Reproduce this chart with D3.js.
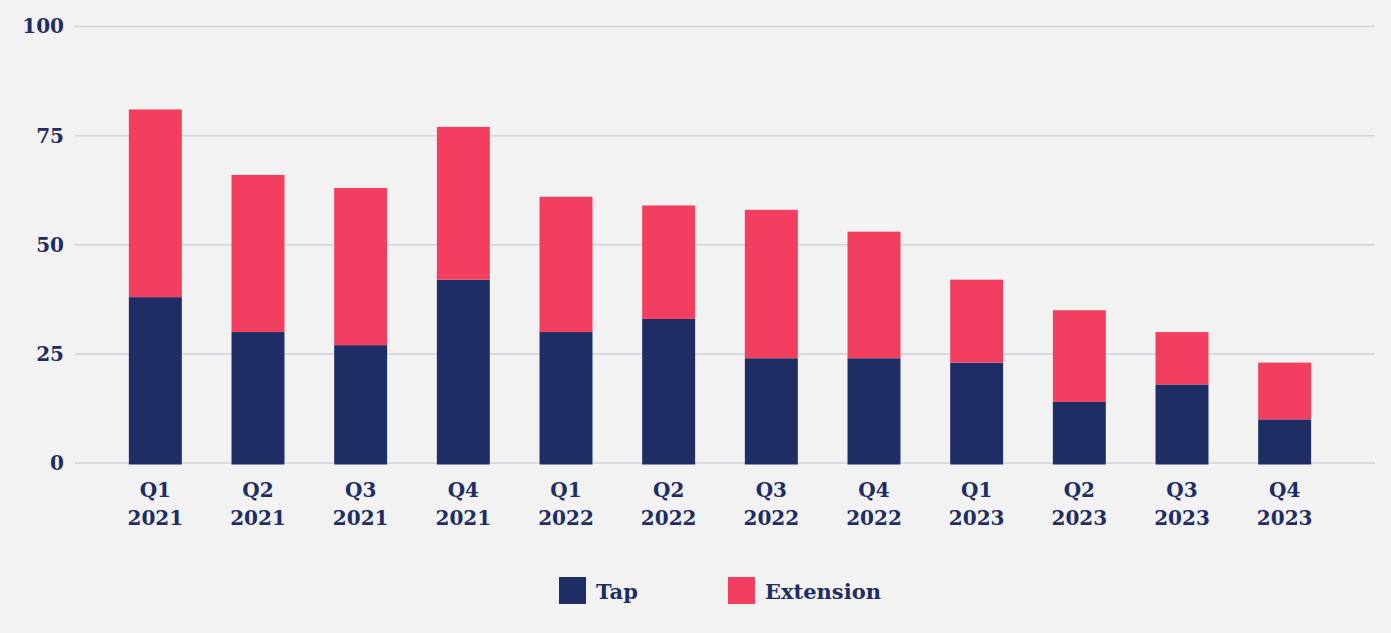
<!DOCTYPE html>
<html>
<head>
<meta charset="utf-8">
<script src="https://cdn.jsdelivr.net/npm/d3@7"></script>
<style>
  body { margin: 0; background: #f2f2f2; }
  text { font-family: "DejaVu Serif", "Liberation Serif", serif; font-weight: bold; fill: #1f2d65; }
</style>
</head>
<body>
<script>
// les données
var quarters = ["Q1", "Q2", "Q3", "Q4", "Q1", "Q2", "Q3", "Q4", "Q1", "Q2", "Q3", "Q4"];
var years = ["2021", "2021", "2021", "2021", "2022", "2022", "2022", "2022", "2023", "2023", "2023", "2023"];
var tap = [38, 30, 27, 42, 30, 33, 24, 24, 23, 14, 18, 10];
var extension = [43, 36, 36, 35, 31, 26, 34, 29, 19, 21, 12, 13];
var yTicks = [0, 25, 50, 75, 100];
var seriesNames = ["Tap", "Extension"];
var colors = ["#1f2d65", "#f23f60"];

var W = 1391, H = 633;

var svg = d3.select("body").append("svg")
            .attr("width", W)
            .attr("height", H)
            .style("background", "#f2f2f2");

var labels = quarters.map((q, i) => q + " " + years[i]);
var rows = labels.map((l, i) => ({label: l, Tap: tap[i], Extension: extension[i]}));

var x = d3.scaleBand()
          .domain(labels)
          .range([104, 1336])
          .paddingInner(0.484)
          .paddingOuter(0.242);

var y = d3.scaleLinear()
          .domain([0, 100])
          .range([463, 26.5]);

// grille
svg.append("g")
   .selectAll("line")
   .data(yTicks)
   .join("line")
   .attr("x1", 75)
   .attr("x2", 1375)
   .attr("y1", d => y(d))
   .attr("y2", d => y(d))
   .attr("stroke", "#d2d3dc")
   .attr("stroke-width", 1.5);

// axe Y
const axeY = d3.axisLeft(y).tickValues(yTicks).tickSize(0).tickPadding(0);
const groupeY = svg.append("g")
   .attr("transform", "translate(64,0)")
   .call(axeY);
groupeY.select(".domain").remove();
groupeY.selectAll("text")
   .style("font-size", "20px")
   .style("font-family", null)
   .attr("fill", null);

// barres empilées
var stack = d3.stack().keys(seriesNames);
var series = stack(rows);

svg.append("g")
   .selectAll("g")
   .data(series)
   .join("g")
   .attr("fill", (d, i) => colors[i])
   .selectAll("rect")
   .data(d => d)
   .join("rect")
   .attr("x", d => x(d.data.label))
   .attr("width", x.bandwidth())
   .attr("y", d => y(d[1]))
   .attr("height", d => y(d[0]) - y(d[1]) + (d[0] === 0 ? 1.5 : 0));

// axe X (deux lignes)
const axeX = d3.axisBottom(x).tickSize(0).tickFormat(() => "");
const groupeX = svg.append("g")
   .attr("transform", "translate(0,463)")
   .call(axeX);
groupeX.select(".domain").remove();
groupeX.selectAll(".tick text").remove();
groupeX.selectAll(".tick")
   .append("text")
   .attr("text-anchor", "middle")
   .style("font-size", "20px")
   .each(function(d, i) {
     var t = d3.select(this);
     t.append("tspan").attr("x", 0).attr("y", 34).text(quarters[i]);
     t.append("tspan").attr("x", 0).attr("y", 62).text(years[i]);
   });

// légende
var legendX = [559, 728];
var legend = svg.append("g")
   .selectAll("g")
   .data(seriesNames)
   .join("g")
   .attr("transform", (d, i) => "translate(" + legendX[i] + ",577)");
legend.append("rect")
   .attr("width", 27)
   .attr("height", 27)
   .attr("fill", (d, i) => colors[i]);
legend.append("text")
   .attr("x", 37)
   .attr("y", 22)
   .style("font-size", "21px")
   .text(d => d);
</script>
</body>
</html>
